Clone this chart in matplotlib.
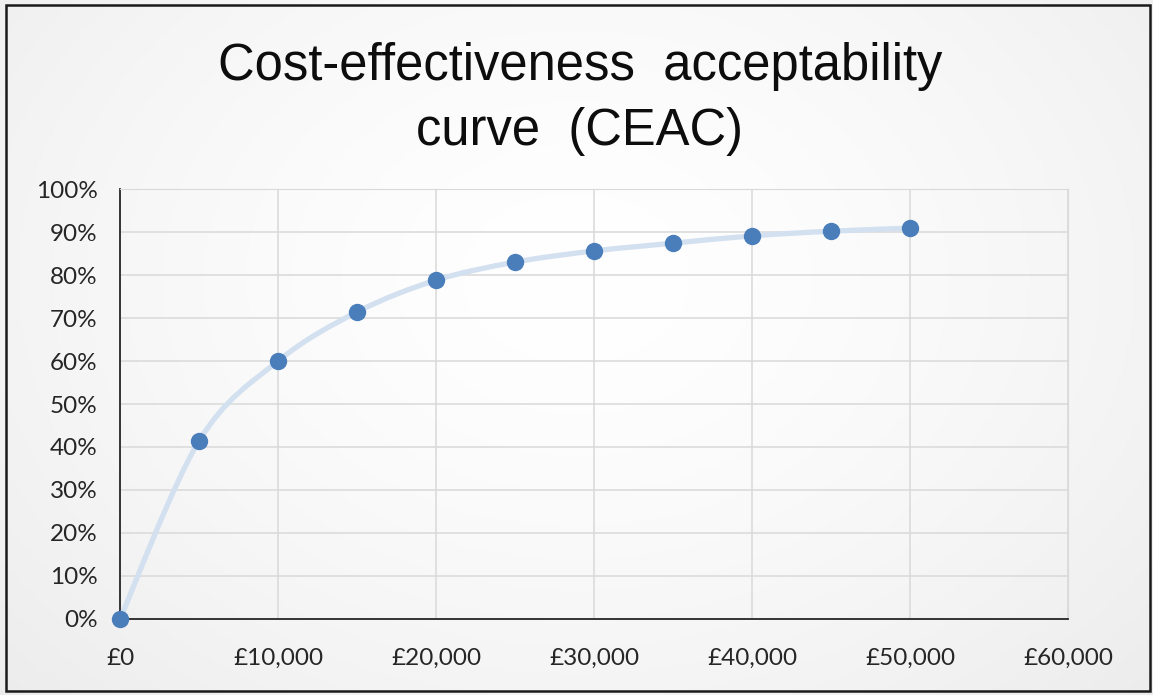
import numpy as np
import matplotlib
matplotlib.use("Agg")
import matplotlib.pyplot as plt
from matplotlib.path import Path
from matplotlib.patches import PathPatch, Rectangle
from matplotlib.ticker import FuncFormatter

# data
wtp = [0, 5000, 10000, 15000, 20000, 25000, 30000, 35000, 40000, 45000, 50000]
prob = [0.0, 0.414, 0.600, 0.714, 0.788, 0.830, 0.856, 0.874, 0.891, 0.902, 0.909]
x_ticks = [0, 10000, 20000, 30000, 40000, 50000, 60000]
y_ticks = [0, 0.1, 0.2, 0.3, 0.4, 0.5, 0.6, 0.7, 0.8, 0.9, 1.0]

fig = plt.figure(figsize=(11.53, 6.95), dpi=100)

# soft grey background like the excel chart area (white centre, grey edges)
bg = fig.add_axes([0, 0, 1, 1], zorder=-10)
gx, gy = np.meshgrid(np.linspace(-1, 1, 300), np.linspace(1, -1, 200))
r = np.sqrt(gx ** 2 + ((gy - 0.2) * 0.8) ** 2)
shade = np.clip(1.0 - 0.045 * r ** 1.5, 0, 1)
bg.imshow(np.dstack([shade, shade, shade]), aspect="auto", extent=[0, 1, 0, 1])
bg.set_axis_off()

ax = fig.add_axes([0.1041, 0.1094, 0.8222, 0.6186])
ax.patch.set_alpha(0)

# smoothed line (bezier segments, like excel "smoothed line")
xs = np.array(wtp, dtype=float)
ys = np.array(prob, dtype=float)
verts = [(xs[0], ys[0])]
codes = [Path.MOVETO]
n = len(xs)
for i in range(n - 1):
    p0 = (xs[max(i - 1, 0)], ys[max(i - 1, 0)])
    p1 = (xs[i], ys[i])
    p2 = (xs[i + 1], ys[i + 1])
    p3 = (xs[min(i + 2, n - 1)], ys[min(i + 2, n - 1)])
    c1 = (p1[0] + (p2[0] - p0[0]) / 6, p1[1] + (p2[1] - p0[1]) / 6)
    c2 = (p2[0] - (p3[0] - p1[0]) / 6, p2[1] - (p3[1] - p1[1]) / 6)
    verts += [c1, c2, p2]
    codes += [Path.CURVE4] * 3
ax.add_patch(PathPatch(Path(verts, codes), fill=False, edgecolor="#d3e0f0",
                       lw=3.8, capstyle="round", zorder=3))

ax.plot(wtp, prob, "o", color="#4a7ebb", markersize=11.5, zorder=4, clip_on=False)

ax.set_xlim(0, 60000)
ax.set_ylim(0, 1)
ax.set_xticks(x_ticks)
ax.set_yticks(y_ticks)
ax.xaxis.set_major_formatter(FuncFormatter(lambda v, p: "£{:,.0f}".format(v)))
ax.yaxis.set_major_formatter(FuncFormatter(lambda v, p: "{:.0f}%".format(v * 100)))
ax.grid(True, color="#d9d9d9", lw=1.1, zorder=0)
ax.set_axisbelow(True)
ax.tick_params(length=0, labelsize=17.5, colors="#262626")
ax.tick_params(axis="x", pad=21)
ax.tick_params(axis="y", pad=16)
for lab in ax.get_xticklabels() + ax.get_yticklabels():
    lab.set_fontfamily("Lato")
for s in ["top", "right"]:
    ax.spines[s].set_color("#d9d9d9")
for s in ["left", "bottom"]:
    ax.spines[s].set_color("#262626")
    ax.spines[s].set_linewidth(1.3)

fig.text(0.503, 0.904, "Cost-effectiveness  acceptability", ha="center", va="center",
         fontsize=36.5, family="Liberation Sans", color="#0d0d0d")
fig.text(0.503, 0.811, "curve  (CEAC)", ha="center", va="center",
         fontsize=36.5, family="Liberation Sans", color="#0d0d0d")

# outer border of the chart
fig.patches.append(Rectangle((0.0055, 0.006), 0.992, 0.987, transform=fig.transFigure,
                             fill=False, edgecolor="#1a1a1a", lw=1.8))

fig.savefig("out.png", dpi=100)
